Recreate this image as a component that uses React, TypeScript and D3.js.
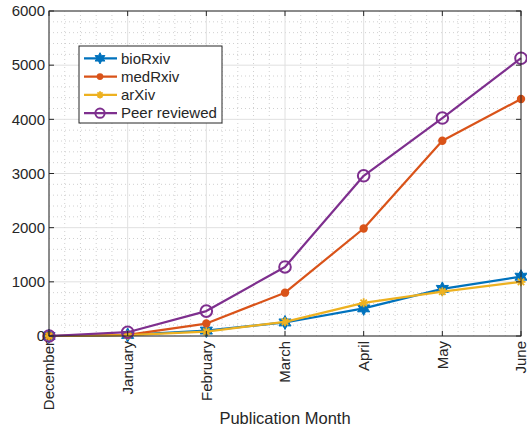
import React from 'react';
import * as d3 from 'd3';

// data
const months = ['December', 'January', 'February', 'March', 'April', 'May', 'June'];
const bioRxiv = [0, 20, 100, 250, 510, 870, 1095];
const medRxiv = [0, 20, 230, 800, 1985, 3605, 4375];
const arXiv = [0, 15, 80, 262, 612, 818, 1000];
const peerReviewed = [0, 70, 460, 1275, 2958, 4024, 5128];
const yTicks = [0, 1000, 2000, 3000, 4000, 5000, 6000];

const seriesNames = ['bioRxiv', 'medRxiv', 'arXiv', 'Peer reviewed'];
const seriesData = [bioRxiv, medRxiv, arXiv, peerReviewed];
const colors = ['#0072BD', '#D95319', '#EDB120', '#7E2F8E'];

const W = 527;
const H = 434;
const margin = { top: 11, right: 6, bottom: 98, left: 49 };
const textColor = '#262626';
const font = '"Liberation Sans", Arial, sans-serif';

const hexagram = (r: number) => {
  const pts: string[] = [];
  for (let i = 0; i < 12; i++) {
    const a = (Math.PI / 6) * i - Math.PI / 2;
    const rr = i % 2 === 0 ? r : r * 0.55;
    pts.push(`${(rr * Math.cos(a)).toFixed(2)},${(rr * Math.sin(a)).toFixed(2)}`);
  }
  return 'M' + pts.join('L') + 'Z';
};

const asterisk = (r: number) => {
  let d = '';
  for (let i = 0; i < 4; i++) {
    const a = (Math.PI / 4) * i;
    const dx = r * Math.cos(a);
    const dy = r * Math.sin(a);
    d += `M${-dx},${-dy}L${dx},${dy}`;
  }
  return d;
};

const Marker = ({ k, x, y, s = 1 }: { k: number; x: number; y: number; s?: number }) => {
  const c = colors[k];
  if (k === 0) return <path d={hexagram(7 * s)} transform={`translate(${x},${y})`} fill={c} stroke={c} strokeWidth={1} />;
  if (k === 1) return <circle cx={x} cy={y} r={4.2 * s} fill={c} />;
  if (k === 2) return <path d={asterisk(4.5 * s)} transform={`translate(${x},${y})`} stroke={c} strokeWidth={1.8} fill="none" />;
  return <circle cx={x} cy={y} r={5.8 * s} fill="none" stroke={c} strokeWidth={2} />;
};

export default function App() {
  const x0 = margin.left;
  const x1 = W - margin.right;
  const y0 = H - margin.bottom;
  const y1 = margin.top;

  const x = d3.scaleLinear().domain([0, months.length - 1]).range([x0, x1]);
  const y = d3.scaleLinear().domain([0, 6000]).range([y0, y1]);

  const line = d3
    .line<number>()
    .x((_, i) => x(i))
    .y((d) => y(d));

  // minor grid positions (5 subdivisions)
  const xMinor = d3.range(0, months.length - 1 + 1e-9, 0.2).filter((v) => Math.abs(v - Math.round(v)) > 0.01);
  const yMinor = d3.range(0, 6000, 200).filter((v) => v % 1000 !== 0);

  const legX = 79;
  const legY = 46;
  const legW = 143;
  const legH = 77;

  return (
    <svg width={W} height={H} style={{ position: 'absolute', left: 0, top: 0 }} fontFamily={font}>
      <rect width={W} height={H} fill="#fff" />

      {/* minor grid */}
      <g stroke="#d0d0d0" strokeWidth={1} strokeDasharray="1,3">
        {xMinor.map((v, i) => (
          <line key={'xm' + i} x1={x(v)} x2={x(v)} y1={y1} y2={y0} />
        ))}
        {yMinor.map((v, i) => (
          <line key={'ym' + i} x1={x0} x2={x1} y1={y(v)} y2={y(v)} />
        ))}
      </g>
      {/* major grid */}
      <g stroke="#e0e0e0" strokeWidth={1}>
        {months.map((_, i) => (
          <line key={'xg' + i} x1={x(i)} x2={x(i)} y1={y1} y2={y0} />
        ))}
        {yTicks.map((v) => (
          <line key={'yg' + v} x1={x0} x2={x1} y1={y(v)} y2={y(v)} />
        ))}
      </g>

      {/* series */}
      {seriesData.map((s, k) => (
        <g key={seriesNames[k]}>
          <path d={line(s) || ''} fill="none" stroke={colors[k]} strokeWidth={2.2} strokeLinejoin="round" />
          {s.map((v, i) => (
            <Marker key={i} k={k} x={x(i)} y={y(v)} />
          ))}
        </g>
      ))}

      {/* axes box and ticks */}
      <g stroke={textColor} strokeWidth={1} fill="none">
        <rect x={x0} y={y1} width={x1 - x0} height={y0 - y1} />
        {months.map((_, i) => (
          <g key={'xt' + i}>
            <line x1={x(i)} x2={x(i)} y1={y0} y2={y0 - 5} />
            <line x1={x(i)} x2={x(i)} y1={y1} y2={y1 + 5} />
          </g>
        ))}
        {yTicks.map((v) => (
          <g key={'yt' + v}>
            <line x1={x0} x2={x0 + 5} y1={y(v)} y2={y(v)} />
            <line x1={x1} x2={x1 - 5} y1={y(v)} y2={y(v)} />
          </g>
        ))}
      </g>

      {/* tick labels */}
      <g fill={textColor} fontSize={15}>
        {yTicks.map((v) => (
          <text key={'yl' + v} x={x0 - 4} y={y(v)} dy="0.35em" textAnchor="end">
            {v}
          </text>
        ))}
        {months.map((m, i) => (
          <text
            key={'xl' + m}
            transform={`translate(${x(i)},${y0 + 5}) rotate(-90)`}
            dy="0.35em"
            textAnchor="end"
          >
            {m}
          </text>
        ))}
      </g>
      <text x={(x0 + x1) / 2} y={H - 10} textAnchor="middle" fontSize={16.5} fill={textColor}>
        Publication Month
      </text>

      {/* legend */}
      <g>
        <rect x={legX} y={legY} width={legW} height={legH} fill="#fff" stroke={textColor} strokeWidth={1} />
        {seriesNames.map((n, k) => {
          const ly = legY + 12.3 + k * 18.3;
          return (
            <g key={'lg' + n}>
              <line x1={legX + 5} x2={legX + 38} y1={ly} y2={ly} stroke={colors[k]} strokeWidth={2.2} />
              <Marker k={k} x={legX + 21} y={ly} s={0.8} />
              <text x={legX + 42} y={ly} dy="0.35em" fontSize={15} fill={textColor}>
                {n}
              </text>
            </g>
          );
        })}
      </g>
    </svg>
  );
}
